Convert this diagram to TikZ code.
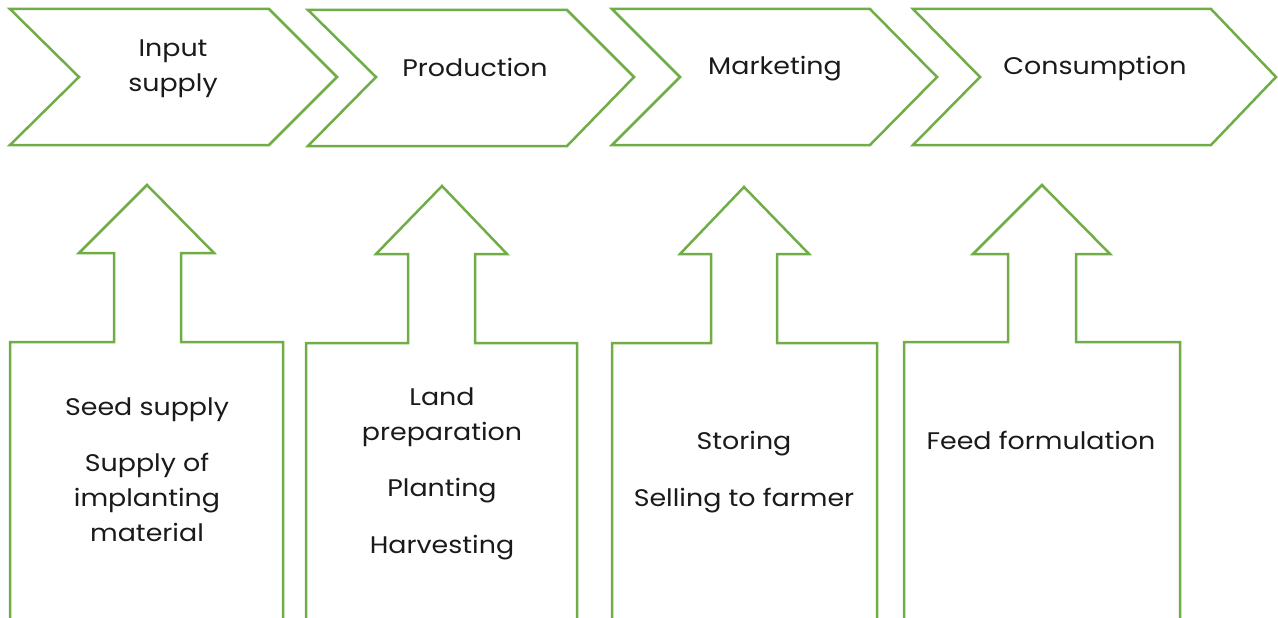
\documentclass[tikz,border=0pt]{standalone}
\usepackage{fontspec}
\setmainfont{Poppins}[FakeStretch=1.12]
\definecolor{leaf}{HTML}{70AD47}
\definecolor{ink}{HTML}{1A1A1A}
\begin{document}
\begin{tikzpicture}[x=1pt,y=-1pt,
  outline/.style={draw=leaf, line width=2.5pt, line join=miter},
  caption/.style={font=\fontsize{24}{35}\selectfont, align=center, text=ink, inner sep=0pt}]
\useasboundingbox (0,0) rectangle (1278,618);

% stage chevrons along the top
\draw[outline] (10,9) -- (269,9) -- (337,77) -- (269,145) -- (10,145) -- (79,77) -- cycle;
\draw[outline] (308,10) -- (567,10) -- (634,77) -- (567,146) -- (308,146) -- (376,77) -- cycle;
\draw[outline] (612,9) -- (870,9) -- (937,77) -- (870,145) -- (612,145) -- (680,77) -- cycle;
\draw[outline] (913,9) -- (1211,9) -- (1276,77) -- (1211,145) -- (913,145) -- (980,77) -- cycle;

% activity boxes with up arrows
\draw[outline] (10,618) -- (10,342) -- (114,342) -- (114,253) -- (79,253) -- (147,185) -- (214,253) -- (181,253) -- (181,342) -- (283,342) -- (283,618);
\draw[outline] (306,618) -- (306,343) -- (408,343) -- (408,254) -- (376,254) -- (442,186) -- (507,254) -- (475,254) -- (475,343) -- (577,343) -- (577,618);
\draw[outline] (612,618) -- (612,343) -- (711,343) -- (711,254) -- (680,254) -- (744,187) -- (809,254) -- (777,254) -- (777,343) -- (877,343) -- (877,618);
\draw[outline] (904,618) -- (904,342) -- (1008,342) -- (1008,254) -- (973,254) -- (1042,185) -- (1110,254) -- (1076,254) -- (1076,342) -- (1180,342) -- (1180,618);

% stage names
\node[caption] (input) at (173,68.5) {Input\\supply};
\node[caption] (production) at (475,67.5) {Production};
\node[caption] (marketing) at (775,68.5) {Marketing};
\node[caption] (consumption) at (1095,68.5) {Consumption};

% activities
\node[caption] (seed) at (147,469.5) {Seed supply\\[21pt]Supply of\\implanting\\material};
\node[caption] (land) at (442,473.5) {Land\\preparation\\[21pt]Planting\\[22pt]Harvesting};
\node[caption] (store) at (744,472) {Storing\\[22pt]Selling to farmer};
\node[caption] (feed) at (1041,440.5) {Feed formulation};
\end{tikzpicture}
\end{document}
